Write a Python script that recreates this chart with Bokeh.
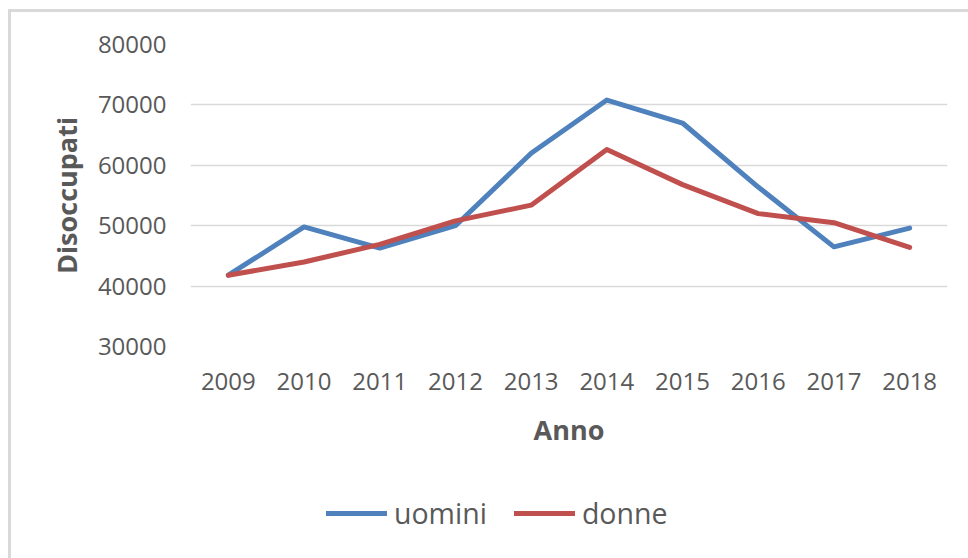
from bokeh.plotting import figure
from bokeh.layouts import column
from bokeh.models import FactorRange, Range1d, FixedTicker, NumeralTickFormatter, Legend, LegendItem
from bokeh.embed import file_html
from bokeh.resources import INLINE

years = ["2009", "2010", "2011", "2012", "2013", "2014", "2015", "2016", "2017", "2018"]
uomini = [41800, 49800, 46300, 50000, 62000, 70800, 67000, 56400, 46500, 49600]
donne = [41800, 44000, 46900, 50800, 53400, 62600, 56800, 52000, 50500, 46400]
y_ticks = [30000, 40000, 50000, 60000, 70000, 80000]
series_names = ["uomini", "donne"]
series_colors = ["#4F81BD", "#C0504D"]

FONT = "Open Sans"
GRAY = "#595959"

p = figure(width=957, height=460, x_range=FactorRange(factors=years),
           y_range=Range1d(30000, 80000), output_backend="svg", toolbar_location=None,
           min_border_left=179, min_border_right=21, min_border_top=32, min_border_bottom=126)
p.outline_line_color = None
p.background_fill_color = "white"
p.border_fill_color = "white"

p.line(years, uomini, line_color=series_colors[0], line_width=5, line_join="round", line_cap="round")
p.line(years, donne, line_color=series_colors[1], line_width=5, line_join="round", line_cap="round")

p.xgrid.grid_line_color = None
p.ygrid.grid_line_color = "#D9D9D9"
p.ygrid.grid_line_width = 1.5
p.yaxis.ticker = FixedTicker(ticks=y_ticks)
p.yaxis.formatter = NumeralTickFormatter(format="0")

for ax in (p.xaxis[0], p.yaxis[0]):
    ax.axis_line_color = None
    ax.major_tick_line_color = None
    ax.minor_tick_line_color = None
    ax.major_label_text_font = FONT
    ax.major_label_text_font_size = "24px"
    ax.major_label_text_color = GRAY
    ax.axis_label_text_font = FONT
    ax.axis_label_text_font_size = "27px"
    ax.axis_label_text_font_style = "bold"
    ax.axis_label_text_color = GRAY

p.xaxis.axis_label = "Anno"
p.yaxis.axis_label = "Disoccupati"
p.xaxis.major_label_standoff = 20
p.yaxis.major_label_standoff = 18
p.xaxis.axis_label_standoff = 18
p.yaxis.axis_label_standoff = 10

# legend strip below the chart (series drawn out of view, only the legend shows)
lf = figure(width=957, height=86, x_range=FactorRange(factors=years), y_range=Range1d(0, 1),
            output_backend="svg", toolbar_location=None,
            min_border_left=179, min_border_right=21, min_border_top=0, min_border_bottom=0)
lf.axis.visible = False
lf.grid.visible = False
lf.outline_line_color = None
lf.background_fill_color = "white"
lf.border_fill_color = "white"
items = []
for name, col, vals in zip(series_names, series_colors, [uomini, donne]):
    r = lf.line(years, vals, line_color=col, line_width=5, line_cap="round")
    items.append(LegendItem(label=name, renderers=[r]))

legend = Legend(items=items, orientation="horizontal", location=(136, 26),
                glyph_width=61, glyph_height=30, label_height=30, label_standoff=7,
                spacing=27, padding=0, margin=0, border_line_color=None,
                background_fill_alpha=0,
                label_text_font=FONT, label_text_font_size="28.5px", label_text_color=GRAY)
lf.add_layout(legend, "center")

layout = column(p, lf, spacing=0,
                styles={"margin-left": "8px", "margin-top": "9px",
                        "border-left": "3px solid #d9d9d9", "border-top": "3px solid #d9d9d9"})

open("out.html", "w").write(file_html(layout, INLINE))
